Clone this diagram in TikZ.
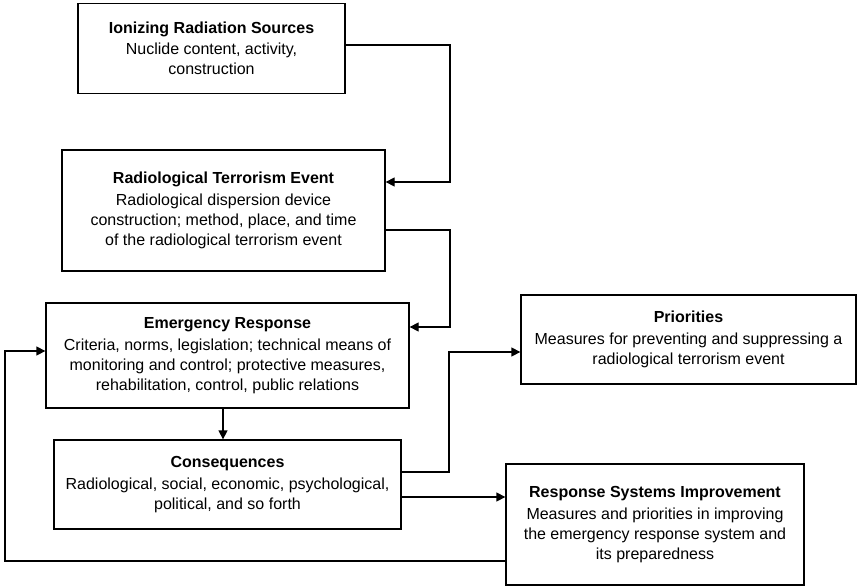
\documentclass[tikz,border=0pt]{standalone}
\usepackage{fontspec}
\setmainfont{Liberation Sans}
\usetikzlibrary{arrows.meta}
\begin{document}
\begin{tikzpicture}[x=1pt,y=1pt,
  box/.style={draw,line width=1.3pt,rectangle,align=center,inner sep=0pt,
    font=\fontsize{16}{20}\selectfont},
  arr/.style={line width=1.3pt,-{Triangle[length=9pt,width=9pt]}}]
\useasboundingbox (0,0) rectangle (857,-586);

\node[box,minimum width=267pt,minimum height=90pt] (src) at (211.5,-48.5)
  {\textbf{Ionizing Radiation Sources}\\[1.5pt]Nuclide content, activity,\\construction};
\node[box,minimum width=323pt,minimum height=121pt] (evt) at (223.5,-210.5)
  {\textbf{Radiological Terrorism Event}\\[1.5pt]Radiological dispersion device\\construction; method, place, and time\\of the radiological terrorism event};
\node[box,minimum width=363pt,minimum height=105pt] (resp) at (227.5,-355.5)
  {\textbf{Emergency Response}\\[1.5pt]Criteria, norms, legislation; technical means of\\monitoring and control; protective measures,\\rehabilitation, control, public relations};
\node[box,minimum width=347pt,minimum height=89pt] (cons) at (227.5,-484.5)
  {\textbf{Consequences}\\[1.5pt]Radiological, social, economic, psychological,\\political, and so forth};
\node[box,minimum width=335pt,minimum height=89pt] (prio) at (688.5,-339.5)
  {\textbf{Priorities}\\[1.5pt]Measures for preventing and suppressing a\\radiological terrorism event};
\node[box,minimum width=298pt,minimum height=121pt] (rsi) at (655,-524.5)
  {\textbf{Response Systems Improvement}\\[1.5pt]Measures and priorities in improving\\the emergency response system and\\its preparedness};

% sources feed the event
\draw[arr] ([yshift=3.5pt]src.east) -| (450,-182) -- ([yshift=28.5pt]evt.east);
% event triggers the response
\draw[arr] ([yshift=-19.5pt]evt.east) -| (450,-327) -- ([yshift=28.5pt]resp.east);
% response leads to consequences
\draw[arr] ([xshift=-4.5pt]resp.south) -- ([xshift=-4.5pt]cons.north);
% consequences inform priorities
\draw[arr] ([yshift=12.5pt]cons.east) -| (449,-352) -- ([yshift=-12.5pt]prio.west);
% consequences drive improvement
\draw[arr] ([yshift=-12.5pt]cons.east) -- ([yshift=27.5pt]rsi.west);
% improvement loops back to the response
\draw[arr] ([yshift=-36.5pt]rsi.west) -| (5,-351) -- ([yshift=4.5pt]resp.west);
\end{tikzpicture}
\end{document}
